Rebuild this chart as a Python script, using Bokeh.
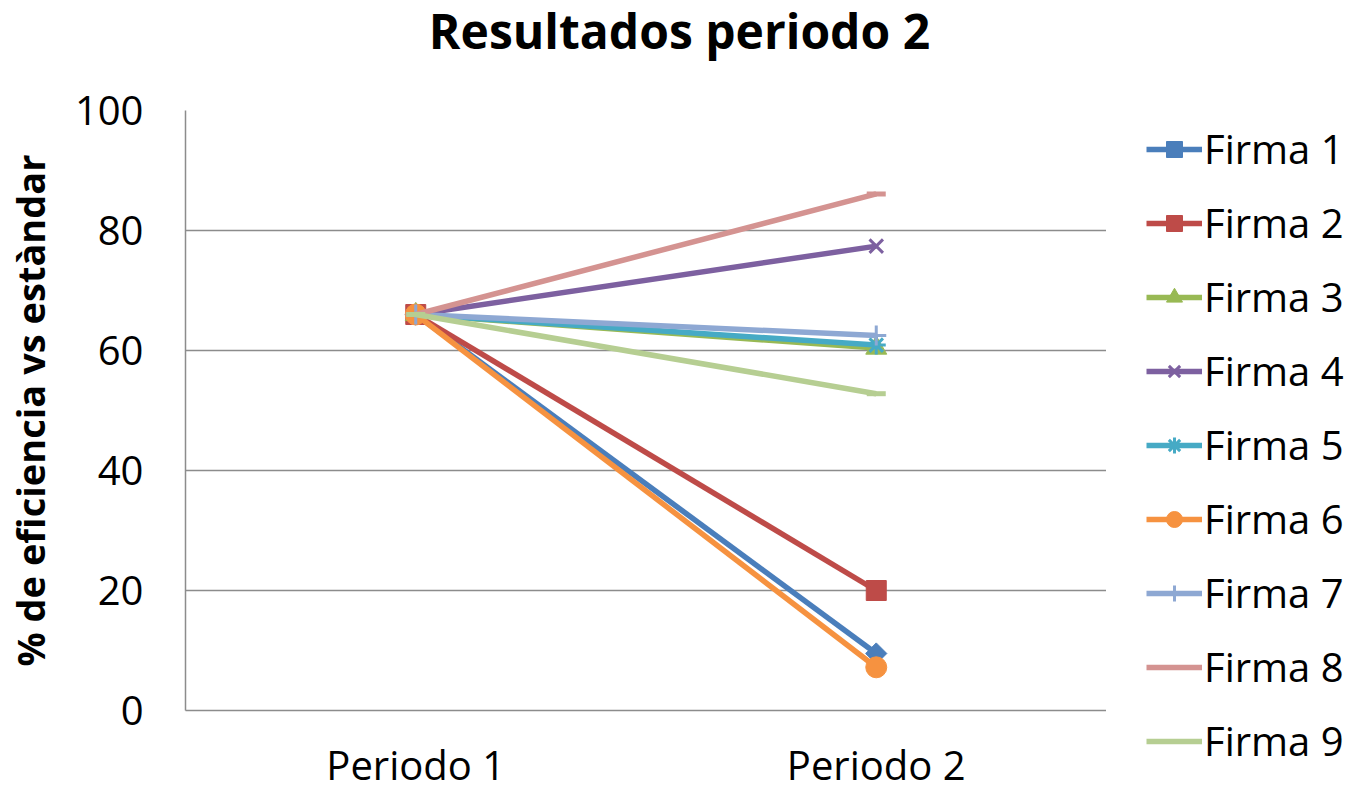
import math
from bokeh.plotting import figure
from bokeh.models import (FactorRange, Range1d, Legend, LegendItem, FixedTicker,
                          ColumnDataSource, Label)
from bokeh.layouts import column, row
from bokeh.embed import file_html
from bokeh.resources import INLINE

periods = ["Periodo 1", "Periodo 2"]
firmas = ["Firma 1", "Firma 2", "Firma 3", "Firma 4", "Firma 5",
          "Firma 6", "Firma 7", "Firma 8", "Firma 9"]
periodo1 = [66, 66, 66, 66, 66, 66, 66, 66, 66]
periodo2 = [9.5, 20, 60.4, 77.4, 60.9, 7.2, 62.5, 86.1, 52.8]
y_ticks = [0, 20, 40, 60, 80, 100]
title_text = "Resultados periodo 2"
y_label = "% de eficiencia vs estàndar"

colors = ["#4A7EBB", "#BE4B48", "#98B954", "#7D60A0", "#46AAC5",
          "#F69240", "#8EA8D3", "#D49391", "#B6CE92"]
markers = ["square", "square", "triangle", "x", "asterisk",
           "circle", "cross", "dash", "dash"]
angles = [math.pi / 4, 0, 0, 0, 0, 0, 0, 0, 0]
sizes = [15, 20, 21, 19, 19, 21, 20, 19, 19]

FONT = "Open Sans"
GRID = "#8C8C8C"
W, H = 1352, 794
TOP = 80           # title strip height
PW = 1106          # main plot width (frame right edge)
LW = W - PW        # legend strip width
BH = H - TOP       # height of the main plot
FRAME_LEFT = 185

# ---- title strip ----
t = figure(width=PW, height=TOP, output_backend="svg", toolbar_location=None,
           x_axis_location=None, y_axis_location=None, min_border=0,
           x_range=(0, 1), y_range=(0, 1))
t.outline_line_color = None
t.xgrid.visible = False
t.ygrid.visible = False
t.add_layout(Label(x=679 - FRAME_LEFT, y=50, x_units="screen", y_units="screen",
                   text=title_text, text_font=FONT, text_font_size="48px",
                   text_font_style="bold", text_color="#000000",
                   text_align="center", text_baseline="alphabetic"))

# ---- main plot ----
p = figure(x_range=FactorRange(*periods), y_range=(0, 100),
           width=PW, height=BH, output_backend="svg", toolbar_location=None,
           min_border_left=FRAME_LEFT, min_border_top=110 - TOP,
           min_border_bottom=H - 713, min_border_right=0)
p.outline_line_color = None
p.xgrid.grid_line_color = None
p.ygrid.grid_line_color = GRID
p.ygrid.grid_line_width = 1.5
p.yaxis.ticker = FixedTicker(ticks=y_ticks)

for ax in (p.xaxis[0], p.yaxis[0]):
    ax.axis_line_color = GRID
    ax.axis_line_width = 1.5
    ax.major_tick_line_color = None
    ax.minor_tick_line_color = None
    ax.major_tick_out = 0
    ax.major_tick_in = 0
    ax.major_label_text_font = FONT
    ax.major_label_text_font_size = "40px"
    ax.major_label_text_color = "#000000"

p.xaxis.major_label_standoff = 26
p.yaxis.major_label_standoff = 42
p.yaxis.axis_label = y_label
p.yaxis.axis_label_text_font = FONT
p.yaxis.axis_label_text_font_size = "38px"
p.yaxis.axis_label_text_font_style = "bold"
p.yaxis.axis_label_text_color = "#000000"
p.yaxis.axis_label_standoff = 16

# ---- legend strip (same series, range chosen so only the legend shows) ----
q = figure(x_range=FactorRange(*periods), y_range=Range1d(1000, 1001),
           width=LW, height=H, output_backend="svg", toolbar_location=None,
           x_axis_location=None, y_axis_location=None, min_border=0)
q.outline_line_color = None
q.xgrid.visible = False
q.ygrid.visible = False

items = []
for i, name in enumerate(firmas):
    src = ColumnDataSource(dict(x=periods, y=[periodo1[i], periodo2[i]]))
    lw = 3 if markers[i] in ("x", "asterisk", "cross") else 5 if markers[i] == "dash" else 1
    for fig in (p, q):
        r_line = fig.line("x", "y", source=src, line_color=colors[i], line_width=5.5)
        r_pt = fig.scatter("x", "y", source=src, marker=markers[i], size=sizes[i],
                           angle=angles[i], fill_color=colors[i],
                           line_color=colors[i], line_width=lw)
    items.append(LegendItem(label=name, renderers=[r_line, r_pt]))

legend = Legend(items=items, location=(40, 26), orientation="vertical",
                border_line_color=None, background_fill_alpha=0,
                margin=0, padding=0, spacing=19,
                glyph_width=56, glyph_height=40, label_height=40,
                label_standoff=2,
                label_text_font=FONT, label_text_font_size="40px",
                label_text_color="#000000")
q.add_layout(legend)

layout = row(column(t, p), q)
open("out.html", "w").write(file_html(layout, INLINE))
